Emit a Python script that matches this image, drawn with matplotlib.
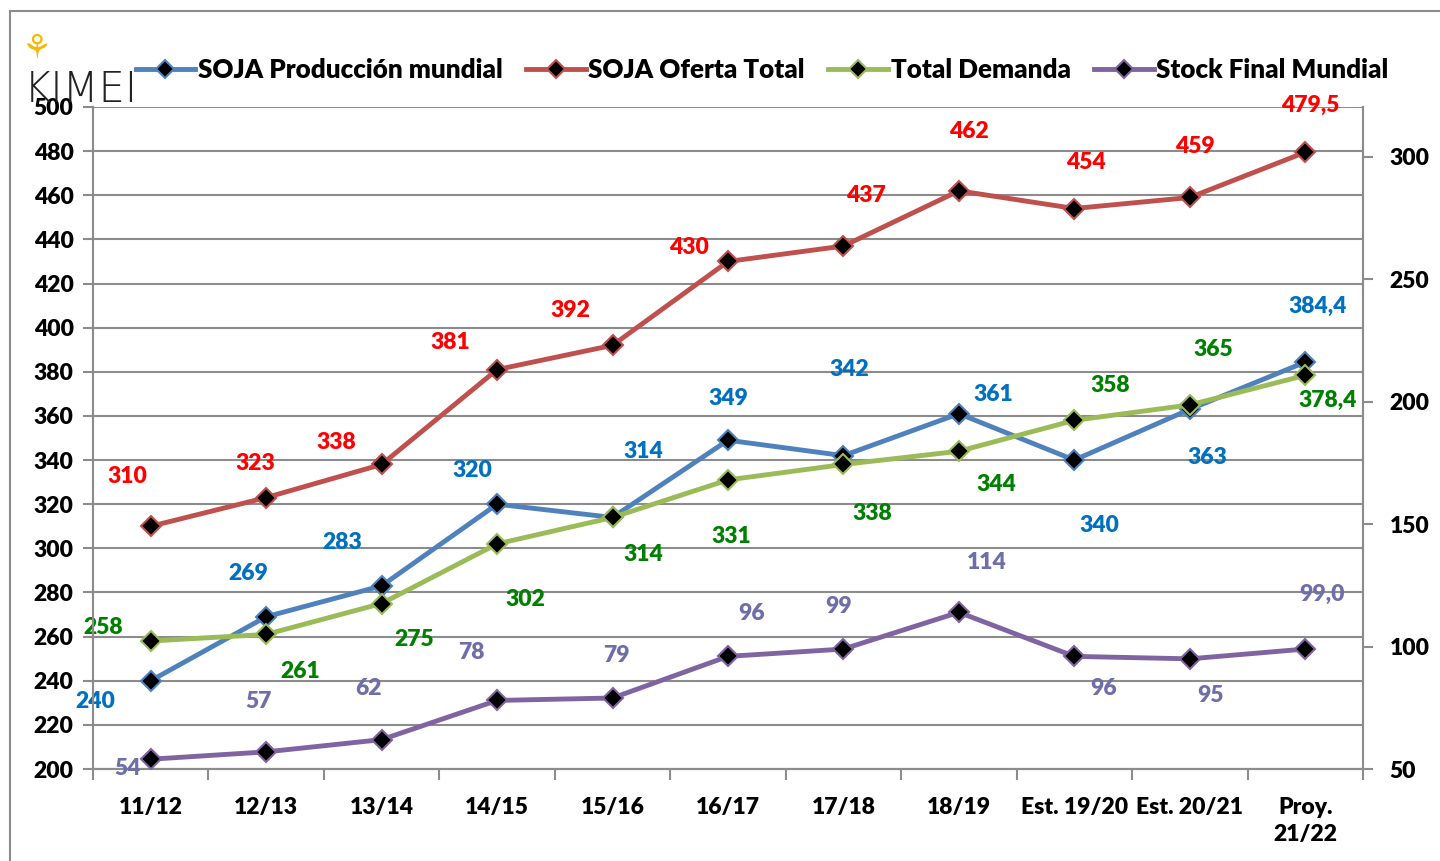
import matplotlib.pyplot as plt
from matplotlib.patches import Rectangle
from matplotlib.lines import Line2D
import numpy as np

campanias = ['11/12', '12/13', '13/14', '14/15', '15/16', '16/17', '17/18', '18/19',
             'Est. 19/20', 'Est. 20/21', 'Proy.\n21/22']

produccion = [240, 269, 283, 320, 314, 349, 342, 361, 340, 363, 384.4]
oferta = [310, 323, 338, 381, 392, 430, 437, 462, 454, 459, 479.5]
demanda = [258, 261, 275, 302, 314, 331, 338, 344, 358, 365, 378.4]
stock = [54, 57, 62, 78, 79, 96, 99, 114, 96, 95, 99.0]

lbl_prod = ['240', '269', '283', '320', '314', '349', '342', '361', '340', '363', '384,4']
lbl_ofer = ['310', '323', '338', '381', '392', '430', '437', '462', '454', '459', '479,5']
lbl_dem = ['258', '261', '275', '302', '314', '331', '338', '344', '358', '365', '378,4']
lbl_stock = ['54', '57', '62', '78', '79', '96', '99', '114', '96', '95', '99,0']

# offsets of the value labels, pixels (dx, dy up)
off_prod = [(-55, -21), (-18, 43), (-39, 43), (-25, 34), (31, 66), (0, 42), (6, 86),
            (34, 19), (25, -65), (18, -48), (12, 56)]
off_ofer = [(-23, 50), (-11, 34), (-45, 22), (-47, 27), (-42, 35), (-39, 14), (22, 51),
            (10, 59), (11, 46), (5, 51), (5, 47)]
off_dem = [(-48, 14), (34, -37), (33, -36), (28, -56), (31, -37), (3, -57), (29, -49),
           (37, -33), (36, 35), (23, 55), (22, -25)]
off_stock = [(-23, -9), (-8, 50), (-13, 51), (-26, 48), (4, 43), (24, 43), (-5, 43),
             (28, 50), (29, -32), (21, -37), (17, 55)]

plt.rcParams['font.family'] = ['Lato', 'DejaVu Sans']
plt.rcParams['font.weight'] = 'heavy'

fig = plt.figure(figsize=(14.4, 8.61), dpi=100)
ax = fig.add_axes([93 / 1440, 1 - 769 / 861, 1270 / 1440, 662 / 861])
ax2 = ax.twinx()

fig.patches.append(Rectangle((10 / 1440, -0.5), 2, 0.5 + (1 - 11 / 861), transform=fig.transFigure,
                             fill=False, edgecolor='#8c8c8c', lw=1.5, zorder=0))

x = np.arange(len(campanias))
grid_c = '#8c8c8c'

series = [
    (ax, produccion, '#4F81BD', '#0070C0', lbl_prod, off_prod, 'SOJA Producción mundial'),
    (ax, oferta, '#C0504D', '#FF0000', lbl_ofer, off_ofer, 'SOJA Oferta Total'),
    (ax, demanda, '#9BBB59', '#008000', lbl_dem, off_dem, 'Total Demanda'),
    (ax2, stock, '#8064A2', '#6E6EA8', lbl_stock, off_stock, 'Stock Final Mundial'),
]

handles = []
for a, vals, lc, tc, lbls, offs, name in series:
    a.plot(x, vals, color=lc, lw=3.5, marker='D', ms=10, mfc='black', mec=lc, mew=1.5, zorder=3)
    for xi, v, s, (dx, dy) in zip(x, vals, lbls, offs):
        a.annotate(s, (xi, v), xytext=(dx * 0.72, dy * 0.72), textcoords='offset points',
                   ha='center', va='center', color=tc, fontsize=16.5, fontweight='heavy', zorder=5)
    handles.append(Line2D([], [], color=lc, lw=3.5, marker='D', ms=9, mfc='black', mec=lc, mew=1.5))

ax.set_xlim(-0.5, len(campanias) - 0.5)
ax.set_ylim(200, 500)
ax.set_yticks(np.arange(200, 501, 20))
ax2.set_ylim(50, 320.4)
ax2.set_yticks(np.arange(50, 301, 50))

ax.set_xticks(x)
ax.set_xticklabels(campanias, fontsize=16.5, fontweight='heavy', linespacing=1.35)
ax.set_xticks(np.arange(-0.5, len(campanias), 1), minor=True)
ax.tick_params(axis='x', which='major', length=0, pad=20)
ax.tick_params(axis='x', which='minor', length=8, width=1.5, color=grid_c)
ax.tick_params(axis='y', length=7, width=1.5, color=grid_c, labelsize=16.5, pad=7)
ax2.tick_params(axis='y', length=7, width=1.5, color=grid_c, labelsize=16.5, pad=12)
for t in ax.get_yticklabels() + ax2.get_yticklabels():
    t.set_fontweight('heavy')

ax.yaxis.grid(True, color=grid_c, lw=1.5)
ax.set_axisbelow(True)
for a in (ax, ax2):
    for sp in a.spines.values():
        sp.set_color(grid_c)
        sp.set_linewidth(1.5)
    a.spines['top'].set_visible(False)

fig.legend(handles, [s[6] for s in series], loc='center', bbox_to_anchor=(762 / 1440, 1 - 70 / 861),
           ncol=4, frameon=False, handlelength=2.3, handletextpad=0.1,
           columnspacing=0.9, prop={'weight': 'heavy', 'size': 18.7})

fig.text(24 / 1440, 1 - 90 / 861, 'KIMEI', fontsize=30, fontweight='light', color='#222222',
         va='center', ha='left', family='DejaVu Sans', zorder=1)
fig.text(36 / 1440, 1 - 48 / 861, '\u2698', fontsize=24, color='#F5B800', va='center', ha='center',
         family='DejaVu Sans')

fig.savefig('out.png', dpi=100)
